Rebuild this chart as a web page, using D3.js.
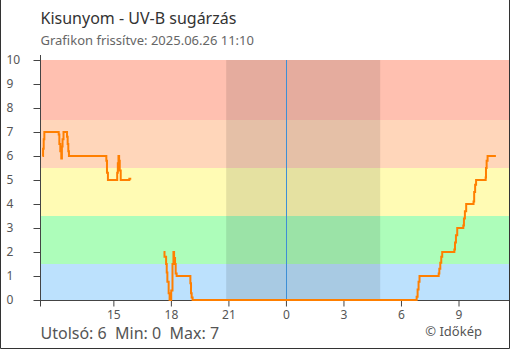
<!DOCTYPE html>
<html>
<head>
<meta charset="utf-8">
<script src="https://cdn.jsdelivr.net/npm/d3@7/dist/d3.min.js"></script>
<style>
  html, body { margin: 0; padding: 0; background: #fff; }
  svg { display: block; font-family: "Noto Sans", "Open Sans", sans-serif; }
</style>
</head>
<body>
<svg id="chart" width="510" height="350"></svg>
<script>
// UV-B readings, Kisunyom — change points (time, UV index), stepped
const seg1Times = ["2025-06-25 11:18","2025-06-25 11:20","2025-06-25 11:22","2025-06-25 11:24",
  "2025-06-25 12:09","2025-06-25 12:11","2025-06-25 12:14","2025-06-25 12:17",
  "2025-06-25 12:19","2025-06-25 12:21","2025-06-25 12:24","2025-06-25 12:35",
  "2025-06-25 12:37","2025-06-25 12:39","2025-06-25 12:41","2025-06-25 14:38",
  "2025-06-25 14:40","2025-06-25 14:43","2025-06-25 15:12","2025-06-25 15:14",
  "2025-06-25 15:16","2025-06-25 15:18","2025-06-25 15:20","2025-06-25 15:23",
  "2025-06-25 15:50","2025-06-25 15:56"];
const seg1Values = [6.0, 6.3, 6.7, 7.0,
  6.9, 6.5, 6.2, 5.9,
  6.4, 6.7, 7.0, 6.8,
  6.5, 6.2, 6.0, 5.8,
  5.3, 5.0, 5.3, 5.7,
  6.0, 5.8, 5.4, 5.0,
  5.05, 5.05];

const seg2Times = ["2025-06-25 17:37","2025-06-25 17:40","2025-06-25 17:45","2025-06-25 17:47",
  "2025-06-25 17:49","2025-06-25 17:53","2025-06-25 17:56","2025-06-25 18:01",
  "2025-06-25 18:05","2025-06-25 18:08","2025-06-25 18:10","2025-06-25 18:13",
  "2025-06-25 18:15","2025-06-25 18:18","2025-06-25 19:01","2025-06-25 19:03",
  "2025-06-25 19:05","2025-06-25 19:08",
  "2025-06-26 06:47","2025-06-26 06:49","2025-06-26 06:52","2025-06-26 06:55",
  "2025-06-26 06:58","2025-06-26 07:58","2025-06-26 08:00","2025-06-26 08:03",
  "2025-06-26 08:06","2025-06-26 08:09","2025-06-26 08:11","2025-06-26 08:47",
  "2025-06-26 08:49","2025-06-26 08:52","2025-06-26 08:56","2025-06-26 08:58",
  "2025-06-26 09:15","2025-06-26 09:17","2025-06-26 09:20","2025-06-26 09:24",
  "2025-06-26 09:26","2025-06-26 09:47","2025-06-26 09:49","2025-06-26 09:52",
  "2025-06-26 09:55","2025-06-26 09:57","2025-06-26 10:25","2025-06-26 10:26",
  "2025-06-26 10:28","2025-06-26 10:31","2025-06-26 10:33","2025-06-26 10:57"];
const seg2Values = [2.0, 1.8, 1.5, 1.15,
  0.76, 0.28, 0.0, 0.4,
  1.5, 2.0, 1.75, 1.5,
  1.1, 1.0, 0.7, 0.28,
  0.1, 0.0,
  0.0, 0.14, 0.44, 0.76,
  1.0, 1.1, 1.3, 1.55,
  1.8, 2.0, 2.0, 2.1,
  2.4, 2.7, 3.0, 3.0,
  3.1, 3.4, 3.7, 4.0,
  4.0, 4.1, 4.5, 4.8,
  5.0, 5.0, 5.1, 5.5,
  5.8, 6.0, 6.0, 6.0];

// UV index categories (lower bound, upper bound, colour)
const bandLow = [0, 1.5, 3.5, 5.5, 7.5];
const bandHigh = [1.5, 3.5, 5.5, 7.5, 10];
const bandColors = ["#bce1fd", "#adfdba", "#fffbb4", "#ffd6ba", "#ffc0b0"];

const yTicks = [0, 1, 2, 3, 4, 5, 6, 7, 8, 9, 10];
const xTickTimes = ["2025-06-25 15:00","2025-06-25 18:00","2025-06-25 21:00","2025-06-26 00:00",
  "2025-06-26 03:00","2025-06-26 06:00","2025-06-26 09:00"];
const domainTimes = ["2025-06-25 11:12", "2025-06-26 11:38"];
const nightTimes = ["2025-06-25 20:53", "2025-06-26 04:55"];
const midnight = "2025-06-26 00:00";

const titleText = "Kisunyom - UV-B sugárzás";
const subtitleText = "Grafikon frissítve: 2025.06.26 11:10";
const statsText = "Utolsó: 6  Min: 0  Max: 7";
const creditText = "© Időkép";

const parse = d3.timeParse("%Y-%m-%d %H:%M");
const svg = d3.select("#chart");

const plotL = 40.5, plotR = 509, plotT = 60, plotB = 300;
const x = d3.scaleTime().domain(domainTimes.map(parse)).range([plotL, plotR]);
const y = d3.scaleLinear().domain([0, 10]).range([plotB, plotT]);

// category bands
svg.append("g").selectAll("rect").data(bandLow).join("rect")
  .attr("x", plotL).attr("width", plotR - plotL)
  .attr("y", (d, i) => y(bandHigh[i]))
  .attr("height", (d, i) => y(d) - y(bandHigh[i]))
  .attr("fill", (d, i) => bandColors[i]);

// night shading
const n0 = x(parse(nightTimes[0])), n1 = x(parse(nightTimes[1]));
svg.append("rect").attr("x", n0).attr("width", n1 - n0)
  .attr("y", plotT).attr("height", plotB - plotT)
  .attr("fill", "rgba(0,0,0,0.1)");

// midnight marker
const mx = Math.round(x(parse(midnight))) + 0.5;
svg.append("line").attr("x1", mx).attr("x2", mx).attr("y1", plotT).attr("y2", plotB)
  .attr("stroke", "#3d8fd6").attr("stroke-width", 1);

// y axis
const yAxis = svg.append("g").attr("transform", `translate(${plotL},0)`)
  .call(d3.axisLeft(y).tickValues(yTicks).tickSize(7).tickPadding(0));
yAxis.select(".domain").remove();
yAxis.selectAll(".tick line").attr("stroke", "#444");
yAxis.selectAll(".tick text").attr("text-anchor", "start").attr("x", 6.5 - plotL)
  .attr("fill", "#555").style("font-size", "12px").style("font-family", "'Noto Sans', sans-serif");
svg.append("line").attr("x1", plotL).attr("x2", plotL).attr("y1", 55).attr("y2", 306.5)
  .attr("stroke", "#444");

// x axis
const xAxis = svg.append("g").attr("transform", `translate(0,${plotB})`)
  .call(d3.axisBottom(x).tickValues(xTickTimes.map(parse)).tickSize(6.5).tickPadding(4)
    .tickFormat(d3.timeFormat("%-H")));
xAxis.select(".domain").remove();
xAxis.selectAll(".tick line").attr("stroke", "#444");
xAxis.selectAll(".tick text").attr("fill", "#555").style("font-size", "12px")
  .style("font-family", "'Noto Sans', sans-serif");
svg.append("line").attr("x1", 34).attr("x2", plotR).attr("y1", plotB + 0.5).attr("y2", plotB + 0.5)
  .attr("stroke", "#444");

// series, drawn over the axes so the zero stretch stays visible
const line = d3.line().x(d => x(d.t)).y(d => y(d.v)).curve(d3.curveStepAfter);
[[seg1Times, seg1Values], [seg2Times, seg2Values]].forEach(([ts, vs]) => {
  const pts = ts.map((t, i) => ({ t: parse(t), v: vs[i] }));
  svg.append("path").datum(pts).attr("d", line)
    .attr("fill", "none").attr("stroke", "#ff7f00").attr("stroke-width", 2)
    .attr("stroke-linejoin", "miter");
});

// frame
svg.append("path").attr("d", "M0.5,0V348.5H509.5V0").attr("fill", "none").attr("stroke", "#333");

// texts
svg.append("text").attr("x", 40.5).attr("y", 24).text(titleText)
  .attr("fill", "#333").style("font-size", "16px");
svg.append("text").attr("x", 40.5).attr("y", 45).text(subtitleText)
  .attr("fill", "#666").style("font-size", "13px");
svg.append("text").attr("x", 40.5).attr("y", 339).text(statsText)
  .attr("fill", "#555").style("font-size", "16px").style("white-space", "pre");
svg.append("text").attr("x", 482).attr("y", 335.5).attr("text-anchor", "end").text(creditText)
  .attr("fill", "#555").style("font-size", "13px");
</script>
</body>
</html>
